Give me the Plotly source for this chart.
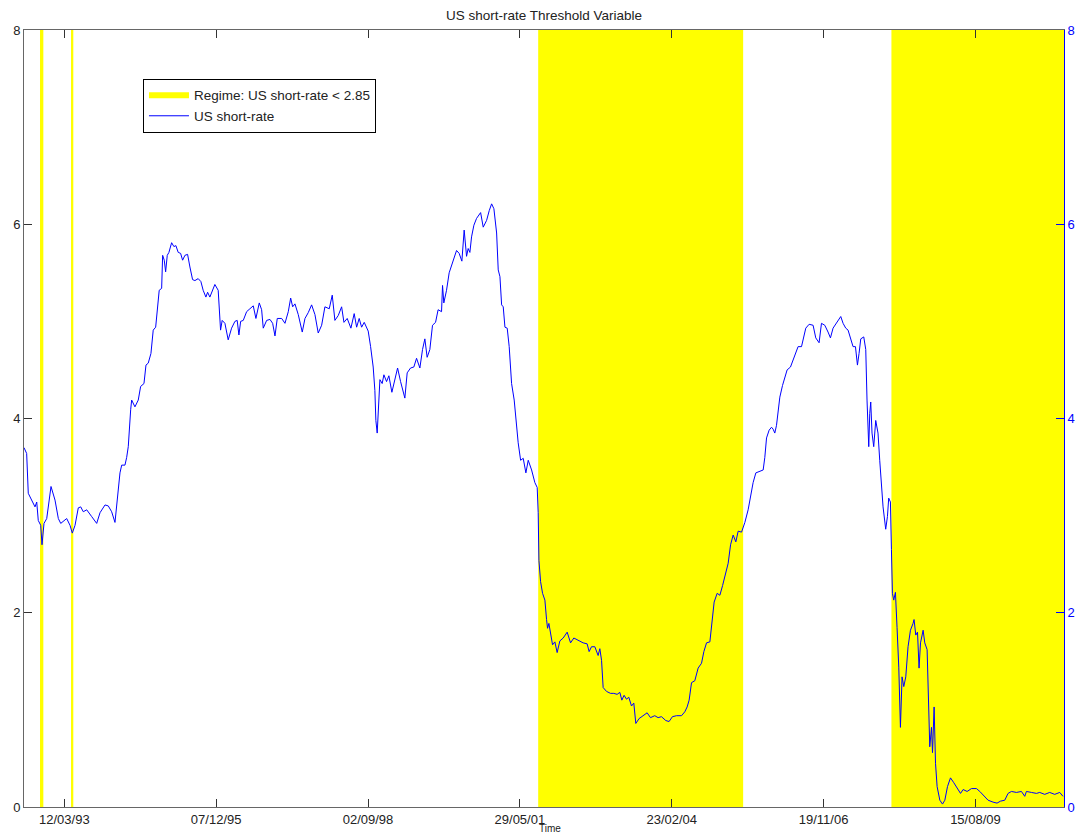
import pandas as pd
import plotly.graph_objects as go

# ---- data (time in decimal years, rate in %) ----
years = [
1992.466,1992.514,1992.543,1992.604,1992.664,1992.695,1992.723,1992.767,1992.790,1992.826,
1992.875,1992.952,1993.024,1993.084,1993.127,1993.235,1993.295,1993.336,1993.385,1993.444,
1993.488,1993.534,1993.596,1993.686,1993.776,1993.836,1993.926,1993.985,1994.046,1994.106,
1994.147,1994.196,1994.227,1994.286,1994.317,1994.346,1994.389,1994.407,1994.466,1994.526,
1994.569,1994.629,1994.665,1994.706,1994.755,1994.796,1994.840,1994.868,1994.904,1994.948,
1994.966,1994.995,1995.020,1995.049,1995.079,1995.128,1995.169,1995.205,1995.247,1995.290,
1995.326,1995.368,1995.416,1995.458,1995.506,1995.548,1995.607,1995.656,1995.697,1995.746,
1995.777,1995.818,1995.867,1995.908,1995.968,1996.011,1996.040,1996.089,1996.148,1996.209,
1996.269,1996.310,1996.341,1996.372,1996.419,1996.480,1996.539,1996.599,1996.647,1996.707,
1996.750,1996.779,1996.840,1996.900,1996.948,1996.990,1997.031,1997.111,1997.170,1997.230,
1997.273,1997.309,1997.350,1997.410,1997.482,1997.531,1997.590,1997.651,1997.711,1997.770,
1997.832,1997.891,1997.969,1998.023,1998.071,1998.131,1998.192,1998.234,1998.293,1998.360,
1998.419,1998.463,1998.509,1998.553,1998.600,1998.672,1998.715,1998.762,1998.792,1998.810,
1998.834,1998.852,1998.883,1998.924,1998.955,1999.003,1999.045,1999.099,1999.153,1999.202,
1999.256,1999.333,1999.375,1999.436,1999.495,1999.544,1999.604,1999.652,1999.694,1999.735,
1999.784,1999.832,1999.887,1999.933,1999.995,2000.013,2000.036,2000.085,2000.132,2000.193,
2000.265,2000.312,2000.361,2000.402,2000.445,2000.474,2000.505,2000.535,2000.577,2000.625,
2000.698,2000.745,2000.806,2000.853,2000.896,2000.937,2000.986,2001.015,2001.046,2001.076,
2001.105,2001.136,2001.177,2001.213,2001.256,2001.303,2001.347,2001.375,2001.419,2001.466,
2001.514,2001.556,2001.617,2001.676,2001.718,2001.736,2001.749,2001.779,2001.815,2001.857,
2001.887,2001.905,2001.929,2001.959,2001.995,2002.037,2002.078,2002.127,2002.187,2002.259,
2002.320,2002.379,2002.457,2002.547,2002.619,2002.655,2002.698,2002.758,2002.817,2002.848,
2002.879,2002.908,2002.969,2003.041,2003.100,2003.160,2003.209,2003.245,2003.286,2003.329,
2003.371,2003.419,2003.461,2003.497,2003.556,2003.629,2003.701,2003.762,2003.839,2003.899,
2003.960,2004.038,2004.097,2004.158,2004.231,2004.321,2004.380,2004.422,2004.458,2004.501,
2004.560,2004.620,2004.681,2004.723,2004.771,2004.831,2004.861,2004.908,2004.962,2005.011,
2005.060,2005.119,2005.161,2005.204,2005.251,2005.299,2005.341,2005.402,2005.462,2005.521,
2005.564,2005.611,2005.660,2005.719,2005.792,2005.822,2005.853,2005.900,2005.943,2005.972,
2006.002,2006.033,2006.062,2006.093,2006.141,2006.183,2006.224,2006.285,2006.332,2006.381,
2006.422,2006.484,2006.525,2006.561,2006.621,2006.693,2006.741,2006.801,2006.844,2006.904,
2006.963,2007.006,2007.053,2007.115,2007.192,2007.234,2007.282,2007.324,2007.372,2007.414,
2007.457,2007.493,2007.522,2007.553,2007.607,2007.643,2007.666,2007.697,2007.715,2007.733,
2007.756,2007.787,2007.823,2007.864,2007.895,2007.926,2007.955,2008.003,2008.034,2008.057,
2008.088,2008.106,2008.124,2008.147,2008.178,2008.207,2008.238,2008.268,2008.297,2008.328,
2008.364,2008.405,2008.448,2008.495,2008.513,2008.544,2008.575,2008.603,2008.629,2008.676,
2008.706,2008.748,2008.778,2008.796,2008.827,2008.845,2008.874,2008.899,2008.928,2008.977,
2009.025,2009.067,2009.115,2009.169,2009.229,2009.288,2009.350,2009.397,2009.469,2009.548,
2009.638,2009.698,2009.770,2009.847,2009.937,2010.009,2010.071,2010.148,2010.208,2010.269,
2010.359,2010.449,2010.509,2010.539,2010.629,2010.720,2010.779,2010.869,2010.959,2011.049,
2011.140,2011.199,
]
short_rate = [
3.70,3.64,3.23,3.16,3.09,3.14,2.95,2.90,2.70,2.92,
2.97,3.30,3.16,2.97,2.92,2.97,2.90,2.82,2.90,3.08,
3.09,3.04,3.06,2.99,2.92,3.03,3.11,3.10,3.04,2.93,
3.19,3.44,3.52,3.52,3.60,3.71,4.09,4.19,4.12,4.19,
4.33,4.36,4.55,4.57,4.67,4.91,4.94,5.11,5.32,5.34,
5.68,5.63,5.51,5.68,5.71,5.81,5.77,5.78,5.71,5.70,
5.63,5.68,5.69,5.56,5.43,5.42,5.44,5.41,5.32,5.25,
5.30,5.25,5.32,5.38,5.32,4.91,5.01,4.98,4.81,4.93,
5.00,5.01,4.86,5.00,5.01,5.10,5.13,5.16,5.03,5.19,
5.12,4.93,5.01,5.02,4.98,4.85,5.03,5.03,4.98,5.10,
5.24,5.15,5.18,5.07,4.89,5.03,5.09,5.17,5.07,4.88,
4.96,5.15,5.13,5.27,5.01,5.06,5.15,4.99,5.03,4.93,
5.08,4.94,5.03,4.94,4.99,4.90,4.74,4.53,4.29,3.98,
3.85,4.09,4.40,4.36,4.45,4.38,4.44,4.27,4.40,4.52,
4.38,4.21,4.47,4.52,4.53,4.62,4.52,4.71,4.82,4.63,
4.71,4.96,4.99,5.12,5.10,5.37,5.19,5.32,5.50,5.61,
5.73,5.70,5.62,5.94,5.67,5.75,5.71,5.87,5.99,6.06,
6.12,5.97,6.04,6.14,6.21,6.16,5.91,5.53,5.46,5.17,
5.15,4.94,4.93,4.74,4.36,4.19,3.92,3.75,3.57,3.59,
3.44,3.57,3.47,3.34,3.29,3.03,2.54,2.32,2.20,2.13,
1.93,1.84,1.89,1.79,1.67,1.70,1.59,1.71,1.74,1.80,
1.69,1.74,1.72,1.69,1.68,1.60,1.65,1.65,1.56,1.63,
1.51,1.23,1.19,1.17,1.17,1.16,1.18,1.10,1.15,1.11,
1.13,1.04,1.07,0.86,0.91,0.94,0.97,0.92,0.94,0.92,
0.93,0.89,0.88,0.93,0.94,0.94,0.98,1.03,1.10,1.28,
1.30,1.43,1.48,1.60,1.69,1.70,1.89,2.11,2.20,2.18,
2.28,2.41,2.51,2.70,2.80,2.73,2.84,2.83,2.93,3.06,
3.21,3.34,3.44,3.45,3.47,3.60,3.80,3.88,3.91,3.89,
3.85,3.93,4.09,4.22,4.34,4.43,4.50,4.53,4.60,4.69,
4.74,4.74,4.84,4.93,4.97,4.96,4.83,4.78,4.98,4.96,
4.89,4.83,4.93,4.99,5.05,4.98,4.93,4.91,4.83,4.74,
4.74,4.55,4.67,4.82,4.84,4.71,4.19,3.71,4.05,4.17,
3.85,3.71,3.98,3.85,3.57,3.33,3.09,2.86,2.99,3.18,
3.14,2.65,2.20,2.13,2.21,1.85,1.44,0.82,1.34,1.24,
1.34,1.65,1.82,1.89,1.93,1.77,1.80,1.43,1.69,1.82,
1.69,1.62,0.97,0.62,0.82,0.56,1.03,0.45,0.21,0.07,
0.03,0.07,0.21,0.30,0.25,0.20,0.14,0.18,0.16,0.19,
0.19,0.16,0.12,0.07,0.05,0.04,0.06,0.07,0.14,0.16,
0.15,0.16,0.11,0.16,0.15,0.14,0.15,0.13,0.15,0.13,
0.15,0.11,
]
# regime periods where US short-rate < 2.85 (start, end in decimal years)
regime_start = [1992.754, 1993.313, 2001.736, 2008.106]
regime_end = [1992.814, 1993.354, 2005.431, 2011.217]

x_range = [1992.466, 2011.217]
y_range = [0, 8]
tick_dates = ["1993-03-12", "1995-12-07", "1998-09-02", "2001-05-29",
              "2004-02-23", "2006-11-19", "2009-08-15"]
tick_text = ["12/03/93", "07/12/95", "02/09/98", "29/05/01",
             "23/02/04", "19/11/06", "15/08/09"]
y_ticks = [0, 2, 4, 6, 8]


def to_date(t):
    y = int(t)
    a = pd.Timestamp(year=y, month=1, day=1)
    b = pd.Timestamp(year=y + 1, month=1, day=1)
    return a + (b - a) * (t - y)


dates = [to_date(t) for t in years]

rx, ry = [], []
for s, e in zip(regime_start, regime_end):
    rx += [to_date(s), to_date(s), to_date(e), to_date(e), None]
    ry += [y_range[0], y_range[1], y_range[1], y_range[0], None]

FONT = "Liberation Sans, Arial, Helvetica, sans-serif"
TXT = "#222222"

fig = go.Figure()
fig.add_trace(go.Scatter(
    x=rx, y=ry, fill="toself", mode="none",
    fillcolor="rgb(255,255,0)",
    name="Regime: US short-rate < 2.85",
    hoverinfo="skip",
))
fig.add_trace(go.Scatter(
    x=dates, y=short_rate, mode="lines",
    line=dict(color="rgb(0,0,255)", width=1),
    name="US short-rate",
))
# invisible trace to carry the right-hand axis
fig.add_trace(go.Scatter(
    x=dates, y=short_rate, mode="lines", yaxis="y2",
    line=dict(color="rgba(0,0,255,0)", width=0),
    showlegend=False, hoverinfo="skip",
))

fig.update_layout(
    width=1075, height=836,
    margin=dict(l=24, r=11, t=30, b=29, autoexpand=False),
    paper_bgcolor="white", plot_bgcolor="white",
    font=dict(family=FONT, size=13, color=TXT),
    title=dict(text="US short-rate Threshold Variable", x=0.506, xanchor="center",
               y=1 - 15 / 836, yanchor="middle",
               font=dict(family=FONT, size=13.5, color=TXT)),
    showlegend=True,
    legend=dict(x=0.1144, y=0.937, xanchor="left", yanchor="top",
                bgcolor="white", bordercolor="black", borderwidth=1,
                font=dict(family=FONT, size=13.5, color=TXT),
                itemwidth=40),
    xaxis=dict(
        type="date", automargin=False,
        range=[to_date(x_range[0]), to_date(x_range[1])],
        tickmode="array", tickvals=tick_dates, ticktext=tick_text,
        ticks="inside", ticklen=8, tickcolor="#333",
        showline=True, linecolor="#666", linewidth=1, mirror="ticks",
        showgrid=False, zeroline=False,
        tickfont=dict(family=FONT, size=13, color=TXT),
    ),
    yaxis=dict(
        range=y_range, tickvals=y_ticks, automargin=False,
        ticks="inside", ticklen=8, tickcolor="#333",
        showline=True, linecolor="#666", linewidth=1,
        showgrid=False, zeroline=False,
        tickfont=dict(family=FONT, size=13, color=TXT),
    ),
    yaxis2=dict(
        range=y_range, tickvals=y_ticks, overlaying="y", side="right",
        automargin=False,
        ticks="inside", ticklen=8, tickcolor="rgb(0,0,255)",
        showline=True, linecolor="rgb(0,0,255)", linewidth=1,
        showgrid=False, zeroline=False,
        tickfont=dict(family=FONT, size=13, color="rgb(0,0,255)"),
    ),
    annotations=[dict(text="Time", xref="paper", yref="paper", x=0.506, y=-29 / 777,
                      xanchor="center", yanchor="bottom", showarrow=False,
                      font=dict(family=FONT, size=10, color=TXT))],
)

fig.write_html("out.html",
               config={"displayModeBar": False},
               post_script="document.body.style.margin='0px';"
                           "document.body.style.overflow='hidden';")
